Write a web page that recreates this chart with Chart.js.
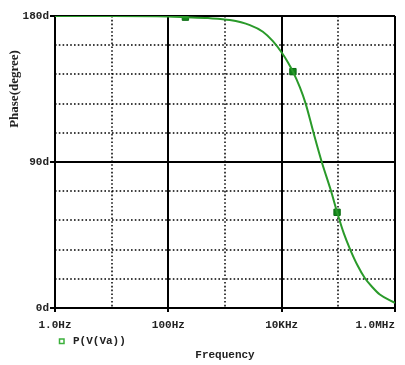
<!DOCTYPE html>
<html>
<head>
<meta charset="utf-8">
<script src="https://cdn.jsdelivr.net/npm/chart.js@4/dist/chart.umd.min.js"></script>
<style>
  html, body { margin: 0; padding: 0; background: #fff; }
  #wrap { width: 405px; height: 365px; }
</style>
</head>
<body>
<div id="wrap"><canvas id="phase-chart"></canvas></div>
<script>
/* data */
const freqHz   = [1, 10, 100, 200, 500, 1220, 2750, 4660, 7000, 10000, 12850, 15800, 21000, 26500, 36500, 51000, 73000, 99000, 125000, 160000, 220000, 293000, 400000, 540000, 1000000];
const phaseDeg = [180, 180, 179.7, 179.3, 178.7, 177.5, 174.4, 170.3, 164.5, 157.5, 151.5, 145.7, 136, 126, 108, 90, 73, 57, 46, 36.5, 26, 18.5, 12.8, 8.3, 3.1];
const markerHz  = [200, 15800, 95000];
const markerDeg = [179.3, 145.7, 59];
const xTickHz     = [1, 100, 10000, 1000000];
const xTickLabels = ['1.0Hz', '100Hz', '10KHz', '1.0MHz'];
const xDottedHz   = [10, 1000, 100000];
const yTickLabels = {0: '0d', 90: '90d', 180: '180d'};
const seriesName = 'P(V(Va))';

const mono = '"Liberation Mono", "DejaVu Sans Mono", monospace';

/* dotted grid, labels, legend and axis titles */
const extras = {
  id: 'extras',
  beforeDatasetsDraw(chart) {
    const {ctx, chartArea: a, scales: {x, y}} = chart;
    ctx.save();
    ctx.strokeStyle = '#000';
    ctx.lineWidth = 1.5;
    ctx.setLineDash([1.6, 2.2]);
    xDottedHz.forEach(v => {
      const px = Math.round(x.getPixelForValue(v));
      ctx.beginPath(); ctx.moveTo(px, a.top); ctx.lineTo(px, a.bottom); ctx.stroke();
    });
    for (let v = 18; v < 180; v += 18) {
      if (v === 90) continue;
      const py = Math.round(y.getPixelForValue(v));
      ctx.beginPath(); ctx.moveTo(a.left, py); ctx.lineTo(a.right, py); ctx.stroke();
    }
    ctx.restore();
  },
  afterDraw(chart) {
    const {ctx, chartArea: a, scales: {x}} = chart;
    ctx.save();
    ctx.fillStyle = '#222';
    ctx.font = 'bold 11px ' + mono;
    ctx.textBaseline = 'middle';
    xTickHz.forEach((v, i) => {
      ctx.textAlign = i === xTickHz.length - 1 ? 'right' : 'center';
      ctx.fillText(xTickLabels[i], x.getPixelForValue(v), a.bottom + 17);
    });
    // legend
    ctx.strokeStyle = '#3cb03c';
    ctx.lineWidth = 1.5;
    ctx.strokeRect(a.left + 4.5, a.bottom + 31, 4.5, 4.5);
    ctx.textAlign = 'left';
    ctx.fillText(seriesName, a.left + 18, a.bottom + 33.5);
    // x title
    ctx.textAlign = 'center';
    ctx.fillText('Frequency', (a.left + a.right) / 2, a.bottom + 47);
    // y title
    ctx.translate(15, 89);
    ctx.rotate(-Math.PI / 2);
    ctx.font = 'bold 13px "Liberation Serif", "DejaVu Serif", serif';
    ctx.fillText('Phase(degree)', 0, 0);
    ctx.restore();
  }
};

const ctx = document.getElementById('phase-chart').getContext('2d');

const chart = new Chart(ctx, {
  type: 'line',
  data: {
    datasets: [{
      label: seriesName,
      data: freqHz.map((f, i) => ({x: f, y: phaseDeg[i]})),
      borderColor: '#2a9a2a',
      borderWidth: 2,
      pointRadius: 0,
      cubicInterpolationMode: 'monotone',
      fill: false
    }, {
      label: 'markers',
      data: markerHz.map((f, i) => ({x: f, y: markerDeg[i]})),
      showLine: false,
      pointStyle: 'rect',
      pointRadius: 4.5,
      backgroundColor: '#12861a',
      borderColor: '#0b6b12',
      borderWidth: 1
    }]
  },
  options: {
    responsive: true,
    maintainAspectRatio: false,
    animation: false,
    layout: { padding: { top: 16, right: 10, left: 0, bottom: 0 } },
    plugins: { legend: { display: false }, tooltip: { enabled: false } },
    scales: {
      x: {
        type: 'logarithmic',
        min: 1,
        max: 1000000,
        afterBuildTicks: axis => { axis.ticks = xTickHz.map(v => ({value: v})); },
        afterFit: scale => { scale.height = 57; },
        ticks: { display: false },
        grid: {
          color: '#000',
          lineWidth: 2,
          tickLength: 4,
          tickColor: '#000'
        },
        border: { color: '#000', width: 2 }
      },
      y: {
        min: 0,
        max: 180,
        afterFit: scale => { scale.width = 55; },
        ticks: {
          stepSize: 18,
          padding: 1,
          color: '#222',
          font: { family: mono, size: 11, weight: 'bold' },
          callback: v => yTickLabels[v] || ''
        },
        grid: {
          lineWidth: 2,
          tickLength: 5,
          color: c => (yTickLabels[c.tick.value] ? '#000' : 'rgba(0,0,0,0)'),
          tickColor: c => (yTickLabels[c.tick.value] ? '#000' : 'rgba(0,0,0,0)')
        },
        border: { color: '#000', width: 2 }
      }
    }
  },
  plugins: [extras]
});
</script>
</body>
</html>
